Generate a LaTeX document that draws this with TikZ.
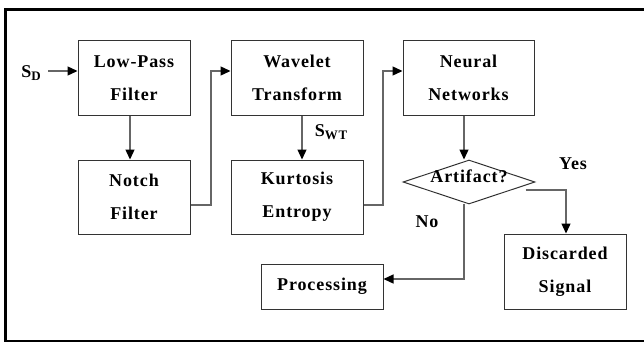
\documentclass[tikz,border=0pt]{standalone}
\usepackage{fontspec}
\setmainfont{Liberation Serif}[LetterSpace=5]
\usetikzlibrary{arrows.meta,shapes.geometric}
\definecolor{edgegray}{HTML}{333333}
\definecolor{wiregray}{HTML}{666666}
\tikzset{
  blockbox/.style={draw=edgegray, line width=1pt, fill=white, inner sep=0pt,
    align=center, font=\fontsize{18}{33}\selectfont\bfseries},
  decision/.style={draw=edgegray, line width=1pt, diamond, inner sep=0pt,
    minimum width=132pt, minimum height=44pt},
  lbl/.style={font=\fontsize{18}{20}\selectfont\bfseries, inner sep=0pt},
  wire/.style={draw=wiregray, line width=1.3pt,
    -{Triangle[length=10pt,width=9pt,color=black]}}
}
\begin{document}
\begin{tikzpicture}[x=1pt,y=-1pt]
\useasboundingbox (0,0) rectangle (644,342);
% outer frame
\draw[line width=3pt] (5.3,9.5) rectangle (652,341);

% blocks
\node[blockbox, minimum width=112pt, minimum height=74pt] (lpf) at (134,78) {Low-Pass\\Filter};
\node[blockbox, minimum width=112pt, minimum height=74pt] (notch) at (134,197) {Notch\\Filter};
\node[blockbox, minimum width=132pt, minimum height=74pt] (wt) at (297,78) {Wavelet\\Transform};
\node[blockbox, minimum width=132pt, minimum height=74pt] (kurt) at (297,197) {Kurtosis\\Entropy};
\node[blockbox, minimum width=131pt, minimum height=74pt] (nn) at (468.5,78) {Neural\\Networks};
\node[decision] (art) at (469,182) {};
\node[lbl] (arttext) at (469,176) {Artifact?};
\node[blockbox, minimum width=122pt, minimum height=75pt] (disc) at (565,271.5) {Discarded\\Signal};
\node[blockbox, minimum width=122pt, minimum height=45pt] (proc) at (322,286.5) {Processing};

% labels
\node[lbl] (sd) at (31,73) {S\raisebox{-3pt}{\fontsize{13}{13}\selectfont D}};
\node[lbl] (swt) at (331,132) {S\raisebox{-3pt}{\fontsize{13}{13}\selectfont WT}};
\node[lbl] (yes) at (573,164) {Yes};
\node[lbl] (no) at (427,222) {No};

% connector bend points
\coordinate (sdin) at (48,71);
\coordinate (j1) at (211,205);
\coordinate (j2) at (383,205);
\coordinate (j3) at (566,190);
\coordinate (j4) at (464,279);

% connectors
\draw[wire] (sdin) -- (sdin -| lpf.west);
\draw[wire] ([xshift=-4pt]lpf.south) -- ([xshift=-4pt]notch.north);
\draw[wire] (j1 -| notch.east) -- (j1) -- (j1 |- sdin) -- (sdin -| wt.west);
\draw[wire] ([xshift=5pt]wt.south) -- ([xshift=5pt]kurt.north);
\draw[wire] (j2 -| kurt.east) -- (j2) -- (j2 |- sdin) -- (sdin -| nn.west);
\draw[wire] ([xshift=-4.5pt]nn.south) -- ([xshift=-5pt]art.north);
\draw[wire] (art.east) ++(-10,8) -- (j3) -- (j3 |- disc.north);
\draw[wire] (j4 |- art.south) ++(0,-1) -- (j4) -- (j4 -| proc.east);
\end{tikzpicture}
\end{document}
